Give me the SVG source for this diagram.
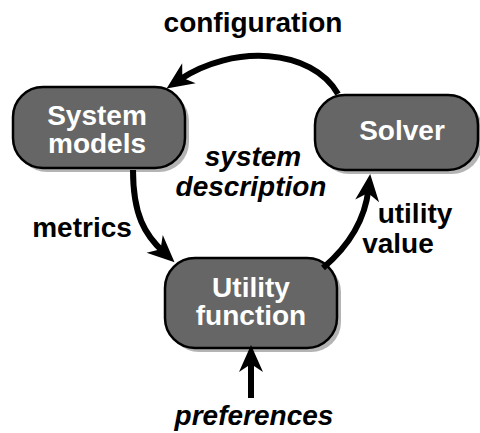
<svg xmlns="http://www.w3.org/2000/svg" width="480" height="433" viewBox="0 0 480 433">
<defs>
<style>
.box{fill:#666666;stroke:#000;stroke-width:2.5}
.shadow{fill:#b4b4b4}
.nt{font-family:"Liberation Sans",Arial,sans-serif;font-weight:bold;font-size:28px;fill:#fff;text-anchor:middle}
.lt{font-family:"Liberation Sans",Arial,sans-serif;font-weight:bold;font-size:28px;fill:#000;text-anchor:middle}
.it{font-style:italic}
.conn{fill:none;stroke:#000;stroke-width:6;marker-end:url(#ah)}
</style>
<marker id="ah" markerUnits="userSpaceOnUse" markerWidth="40" markerHeight="40" viewBox="-20 -20 40 40" refX="0" refY="0" orient="auto">
<path d="M15,0 L-12,-12 L-4,0 L-12,12 Z" fill="#000"/>
</marker>
</defs>
<rect width="480" height="433" fill="#fff"/>
<g id="system-models">
<rect class="shadow" x="17" y="91" width="172" height="81" rx="30"/>
<rect class="box" x="13" y="87" width="172" height="81" rx="30"/>
<text class="nt" x="97" y="125">System</text>
<text class="nt" x="97" y="153">models</text>
</g>
<g id="solver">
<rect class="shadow" x="319" y="99" width="163" height="75" rx="30"/>
<rect class="box" x="315" y="95" width="163" height="75" rx="30"/>
<text class="nt" x="402" y="140">Solver</text>
</g>
<g id="utility-function">
<rect class="shadow" x="169" y="262" width="172" height="90" rx="30"/>
<rect class="box" x="165" y="258" width="172" height="90" rx="30"/>
<text class="nt" x="251" y="297">Utility</text>
<text class="nt" x="251" y="325">function</text>
</g>
<g id="connectors">
<path class="conn" d="M338,94 C312,48 232,44 179,80"/>
<path class="conn" d="M133,170 C133,215 145,235 163.5,252"/>
<path class="conn" d="M323,268 C350,245 365,220 368.5,189"/>
<path class="conn" d="M251,398 L251,360"/>
</g>
<g id="labels">
<text class="lt" x="253" y="32">configuration</text>
<text class="lt" x="82" y="237">metrics</text>
<text class="lt it" x="253" y="166">system</text>
<text class="lt it" x="251" y="196">description</text>
<text class="lt" x="415" y="223">utility</text>
<text class="lt" x="398" y="253">value</text>
<text class="lt it" x="254" y="425">preferences</text>
</g>
</svg>
